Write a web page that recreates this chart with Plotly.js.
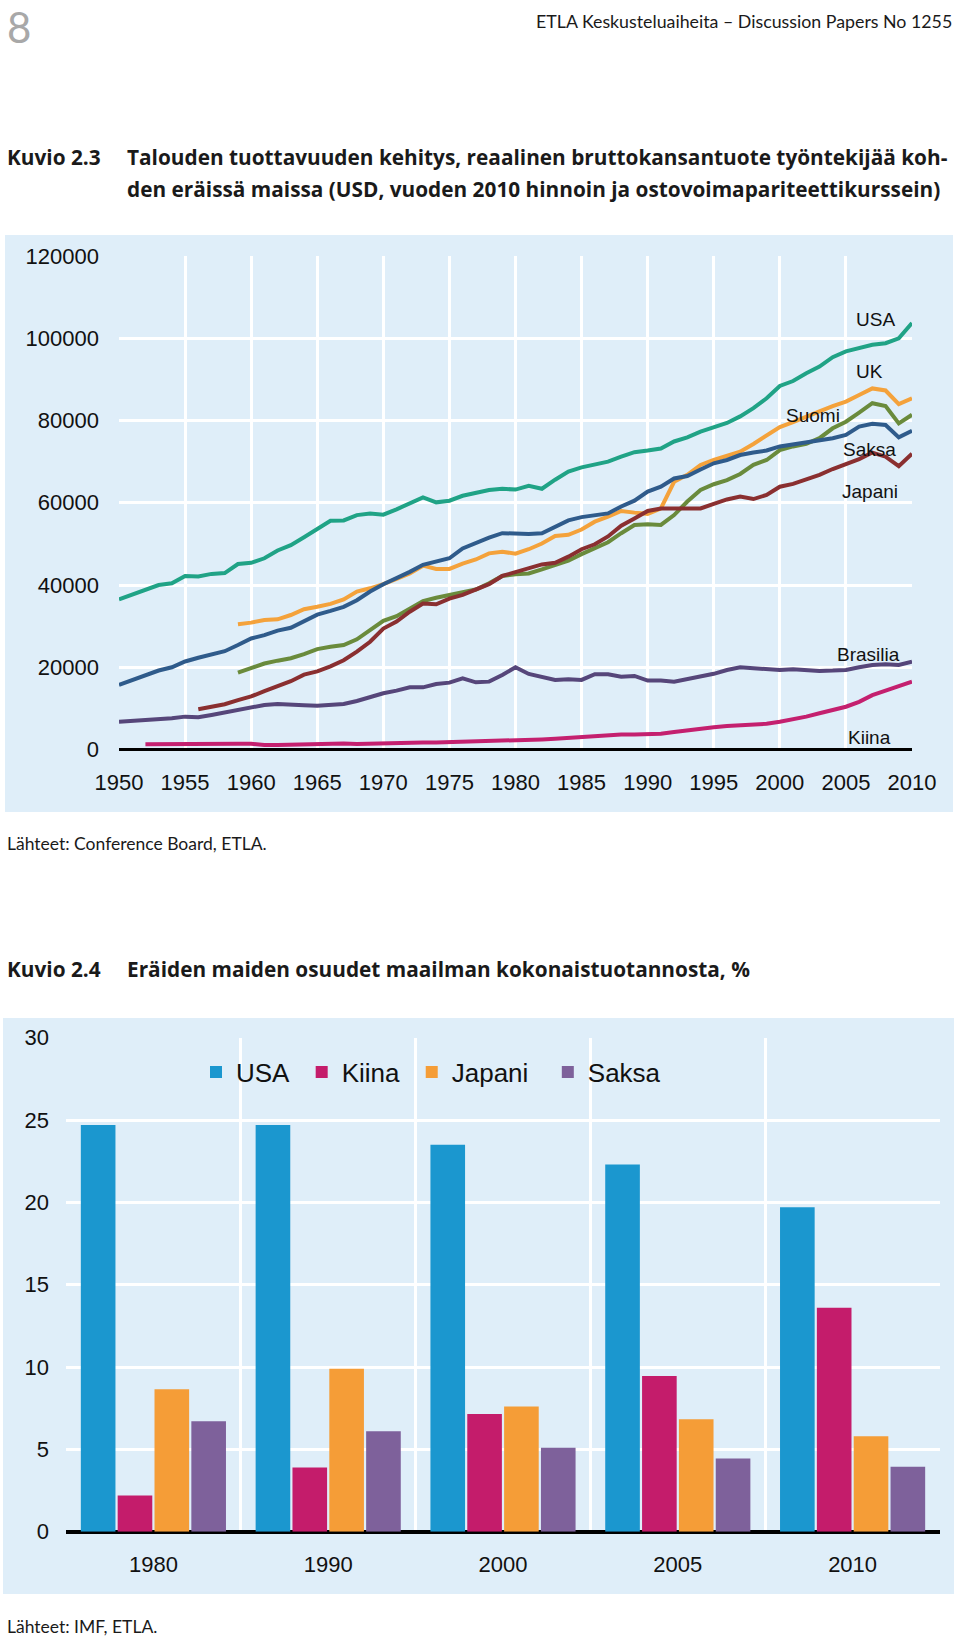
<!DOCTYPE html>
<html><head><meta charset="utf-8">
<script src="https://cdn.plot.ly/plotly-3.0.1.min.js"></script>
<style>html,body{margin:0;padding:0;background:#fff;} #chart{width:960px;height:1638px;}</style>
</head><body><div id="chart"></div>
<script>
// ---------- Kuvio 2.3 data (USD, 2010 prices, PPP) ----------
const YEARS = [1950,1951,1952,1953,1954,1955,1956,1957,1958,1959,
1960,1961,1962,1963,1964,1965,1966,1967,1968,1969,
1970,1971,1972,1973,1974,1975,1976,1977,1978,1979,
1980,1981,1982,1983,1984,1985,1986,1987,1988,1989,
1990,1991,1992,1993,1994,1995,1996,1997,1998,1999,
2000,2001,2002,2003,2004,2005,2006,2007,2008,2009,2010];

const USA = [36500,37700,38800,40000,40400,42200,42050,42700,42900,45100,
45400,46500,48400,49700,51600,53500,55600,55700,57000,57400,
57100,58400,59900,61300,60100,60500,61700,62300,63100,63400,
63200,64100,63400,65600,67600,68600,69400,70000,71200,72300,
72700,73200,74900,75900,77300,78400,79400,81000,83000,85400,
88400,89600,91500,93100,95400,96800,97600,98400,98800,100000,103700];

const UK = [null,null,null,null,null,null,null,null,null,30450,
30850,31500,31650,32700,34100,34700,35400,36500,38400,39200,
40200,41500,42800,44700,43900,43900,45200,46200,47700,48100,
47600,48700,50100,51900,52200,53500,55400,56600,58000,57600,
57300,58600,65100,66800,69200,70400,71400,72400,74300,76300,
78400,79600,81000,82200,83500,84600,86200,87800,87300,84000,85400];

const SUOMI = [null,null,null,null,null,null,null,null,null,18700,
19700,20900,21600,22200,23200,24400,25000,25400,26800,29000,
31300,32400,34300,36100,36900,37600,38100,38900,40400,42200,
42600,42800,43800,44900,45900,47500,48900,50400,52600,54600,
54800,54600,57000,60300,63100,64500,65500,67000,69200,70400,
72800,73700,74300,75700,78100,79700,81900,84200,83500,79300,81400];

const SAKSA = [15700,16900,18100,19200,20000,21400,22300,23100,23900,25400,
27000,27800,28900,29600,31300,32800,33700,34700,36300,38400,
40200,41600,43200,44900,45700,46500,48900,50300,51500,52600,
52400,52400,52600,54200,55700,56500,57000,57400,59100,60500,
62700,63900,65900,66500,68100,69600,70400,71600,72200,72700,
73700,74200,74600,75300,75700,76500,78500,79200,78900,75900,77500];

const JAPANI = [null,null,null,null,null,null,9800,10400,11000,12000,
12900,14200,15300,16600,18200,19000,20200,21700,23800,26200,
29400,31100,33500,35500,35300,36700,37600,38800,40200,42200,
43100,44000,45000,45400,46900,48700,49900,51800,54400,56200,
58000,58600,58600,58400,58600,59700,60800,61500,60900,61900,
63900,64600,65700,66800,68200,69400,70600,72200,71200,68900,71900];

const BRASILIA = [6770,6930,7100,7340,7580,7990,7830,8390,9040,9610,
10260,10830,11070,10830,10750,10650,10830,11070,11800,12700,
13670,14310,15120,15120,15930,16260,17310,16340,16500,18120,
20000,18370,17560,16910,17070,16910,18290,18290,17720,17880,
16750,16750,16500,17150,17960,18400,19340,19990,19750,19580,
19340,19500,19180,19100,19180,19340,19990,20560,20720,20560,21370];

const KIINA = [null,null,1250,1300,1320,1350,1400,1420,1450,1420,
1380,1100,1080,1150,1300,1450,1550,1450,1350,1450,
1600,1650,1650,1700,1700,1780,1740,1850,2050,2150,
2250,2300,2450,2600,2850,3050,3200,3450,3650,3650,
3650,3850,4250,4700,5100,5400,5700,5900,6000,6250,
6750,7300,8000,8800,9600,10400,11600,13200,14300,15300,16500];

const X_TICKS = [1950,1955,1960,1965,1970,1975,1980,1985,1990,1995,2000,2005,2010];
const Y_TICKS = [0,20000,40000,60000,80000,100000,120000];

// ---------- Kuvio 2.4 data (% of world output) ----------
const BAR_YEARS = ['1980','1990','2000','2005','2010'];
const SHARE_USA = [24.7, 24.7, 23.5, 22.3, 19.7];
const SHARE_KIINA = [2.2, 3.9, 7.15, 9.45, 13.6];
const SHARE_JAPANI = [8.65, 9.9, 7.6, 6.83, 5.8];
const SHARE_SAKSA = [6.7, 6.1, 5.1, 4.45, 3.95];
const BAR_Y_TICKS = [0,5,10,15,20,25,30];

// ---------- layout helpers (page pixels -> paper) ----------
const W = 960, H = 1638;
const px = x => x / W;
const py = y => 1 - y / H;

const PANEL = '#dfeef9';
const ARIAL = 'Arial, "Liberation Sans", sans-serif';
const TEXTF = 'Lato, "Open Sans", sans-serif';
const TITLEF = '"Open Sans", Lato, sans-serif';

const lineSeries = [
  {name:'USA', y:USA, color:'#20a386'},
  {name:'UK', y:UK, color:'#f4a23b'},
  {name:'Suomi', y:SUOMI, color:'#6a8b3c'},
  {name:'Saksa', y:SAKSA, color:'#2f5b8b'},
  {name:'Japani', y:JAPANI, color:'#8a2f30'},
  {name:'Brasilia', y:BRASILIA, color:'#56467a'},
  {name:'Kiina', y:KIINA, color:'#c4206f'}
];

const traces = lineSeries.map(s => ({
  type:'scatter', mode:'lines', x:YEARS, y:s.y, name:s.name,
  line:{color:s.color, width:4}, xaxis:'x', yaxis:'y',
  showlegend:false, connectgaps:false, hoverinfo:'skip'
}));

const NB = '\u00a0';
const barSeries = [
  {name:'USA', y:SHARE_USA, color:'#1b97cf'},
  {name:'Kiina', y:SHARE_KIINA, color:'#c41c6b'},
  {name:'Japani', y:SHARE_JAPANI, color:'#f59d37'},
  {name:'Saksa', y:SHARE_SAKSA, color:'#7e619b'}
];
barSeries.forEach((s, i) => traces.push({
  type:'bar', x:BAR_YEARS, y:s.y, name:s.name + (i === 2 ? NB + NB : NB),
  marker:{color:s.color, line:{width:0}}, xaxis:'x2', yaxis:'y2',
  showlegend:true, hoverinfo:'skip'
}));

const labelAnn = (text, x, y) => ({
  text, x, y, xref:'x', yref:'y', showarrow:false,
  xanchor:'center', yanchor:'middle',
  font:{family:ARIAL, size:19, color:'#111'}
});
const pageText = (text, x, y, size, opts={}) => Object.assign({
  text, x:px(x), y:py(y), xref:'paper', yref:'paper', showarrow:false,
  xanchor:'left', yanchor:'middle',
  font:{family:TEXTF, size, color:'#1a1a1a'}
}, opts);
const titleText = (text, x, y) => pageText('<b>' + text + '</b>', x, y, 20.8,
  {font:{family:TITLEF, size:20.8, color:'#1a1a1a'}});

const layout = {
  width:W, height:H,
  margin:{l:0, r:0, t:0, b:0, pad:0},
  paper_bgcolor:'#ffffff', plot_bgcolor:PANEL,
  showlegend:true,
  barmode:'group', bargap:0.157, bargroupgap:0.06,
  font:{family:ARIAL, size:22, color:'#111'},
  xaxis:{
    domain:[px(119), px(912)], range:[1950, 2010], anchor:'y',
    tickmode:'array', tickvals:X_TICKS, ticks:'', showline:false,
    showgrid:true, gridcolor:'#ffffff', gridwidth:3, zeroline:false,
    tickfont:{family:ARIAL, size:22, color:'#111'}, ticklabelstandoff:17,
    fixedrange:true
  },
  yaxis:{
    domain:[py(749.5), py(256)], range:[0, 120000], anchor:'x',
    tickmode:'array', tickvals:Y_TICKS, tickformat:'d', ticks:'',
    showgrid:true, gridcolor:'#ffffff', gridwidth:3,
    zeroline:true, zerolinecolor:'#000000', zerolinewidth:3,
    tickfont:{family:ARIAL, size:22, color:'#111'}, ticklabelstandoff:19,
    fixedrange:true
  },
  xaxis2:{
    domain:[px(66), px(940)], type:'category', anchor:'y2',
    tickson:'boundaries', ticks:'', showline:false,
    showgrid:true, gridcolor:'#ffffff', gridwidth:3, zeroline:false,
    tickfont:{family:ARIAL, size:22, color:'#111'}, ticklabelstandoff:17,
    fixedrange:true
  },
  yaxis2:{
    domain:[py(1531.7), py(1037.7)], range:[0, 30], anchor:'x2',
    tickmode:'array', tickvals:BAR_Y_TICKS, ticks:'',
    showgrid:true, gridcolor:'#ffffff', gridwidth:3,
    zeroline:true, zerolinecolor:'#000000', zerolinewidth:4,
    tickfont:{family:ARIAL, size:22, color:'#111'}, ticklabelstandoff:16,
    fixedrange:true
  },
  legend:{
    orientation:'h', x:px(196), y:py(1072), xanchor:'left', yanchor:'middle',
    bgcolor:'rgba(0,0,0,0)', borderwidth:0,
    font:{family:ARIAL, size:26, color:'#111'}, traceorder:'normal'
  },
  shapes:[
    {type:'rect', xref:'paper', yref:'paper', x0:px(5), x1:px(953), y0:py(812), y1:py(235),
     fillcolor:PANEL, line:{width:0}, layer:'below'},
    {type:'rect', xref:'paper', yref:'paper', x0:px(3), x1:px(954), y0:py(1594), y1:py(1018),
     fillcolor:PANEL, line:{width:0}, layer:'below'}
  ],
  annotations:[
    pageText('8', 5, 0, 42, {yanchor:'top', font:{family:TEXTF, size:42, color:'#a8a8a8'}}),
    pageText('ETLA Keskusteluaiheita – Discussion Papers No 1255', 954, 21, 17.8, {xanchor:'right'}),
    titleText('Kuvio 2.3', 5, 157),
    titleText('Talouden tuottavuuden kehitys, reaalinen bruttokansantuote työntekijää koh-', 125, 157),
    titleText('den eräissä maissa (USD, vuoden 2010 hinnoin ja ostovoimapariteettikurssein)', 125, 189),
    pageText('Lähteet: Conference Board, ETLA.', 5, 844, 17.5),
    titleText('Kuvio 2.4', 5, 969),
    titleText('Eräiden maiden osuudet maailman kokonaistuotannosta, %', 125, 969),
    pageText('Lähteet: IMF, ETLA.', 5, 1626, 17.5),
    labelAnn('USA', 2007.25, 104500),
    labelAnn('UK', 2006.8, 91900),
    labelAnn('Suomi', 2002.5, 81200),
    labelAnn('Saksa', 2006.8, 72900),
    labelAnn('Japani', 2006.8, 62700),
    labelAnn('Brasilia', 2006.7, 23160),
    labelAnn('Kiina', 2006.8, 2870)
  ]
};

Plotly.newPlot('chart', traces, layout, {displayModeBar:false, staticPlot:true});
</script>
</body></html>
